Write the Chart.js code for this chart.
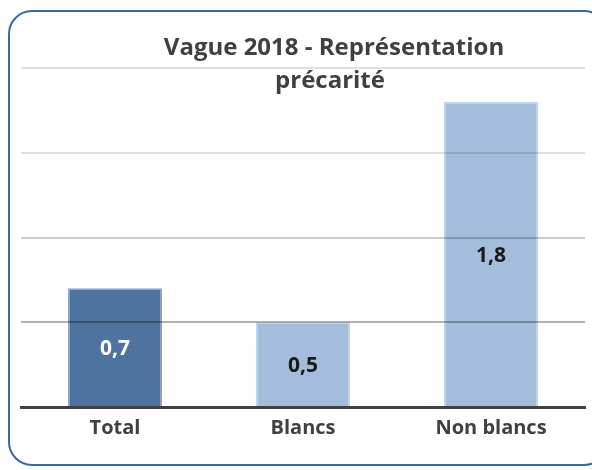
<!DOCTYPE html>
<html><head><meta charset="utf-8">
<script src="https://cdn.jsdelivr.net/npm/chart.js@4/dist/chart.umd.min.js"></script>
<style>
html,body{margin:0;padding:0;background:#fff;}
#wrap{position:relative;width:592px;height:470px;overflow:hidden;}
#frame{position:absolute;left:8px;top:10px;width:600px;height:456px;border:2px solid #3d67a3;border-radius:24px;box-sizing:border-box;}
canvas{position:absolute;left:0;top:0;}
</style></head>
<body>
<div id="wrap"><div id="frame"></div><canvas id="c" width="592" height="470"></canvas></div>
<script>
const categories = ["Total", "Blancs", "Non blancs"];
const values = [0.7, 0.5, 1.8];
const titleLines = ["Vague 2018 - Représentation", "précarité"];
const yTicks = [0, 0.5, 1, 1.5, 2];

const fill = ["#4f739f", "#a5bddc", "#a5bddc"];
const edge = ["#8ba6c9", "#c2d3e9", "#c2d3e9"];
const labelColor = ["#ffffff", "#1a1a1a", "#1a1a1a"];
const FONT = '"Open Sans"';

const valueLabels = {
  id: 'valueLabels',
  afterDatasetsDraw(chart) {
    const ctx = chart.ctx;
    const meta = chart.getDatasetMeta(0);
    ctx.save();
    ctx.font = 'bold 21px ' + FONT;
    ctx.textAlign = 'center';
    ctx.textBaseline = 'alphabetic';
    meta.data.forEach((bar, i) => {
      const p = bar.getProps(['x','y','base'], true);
      ctx.fillStyle = labelColor[i];
      ctx.fillText(values[i].toFixed(1).replace('.', ','), p.x, (p.y + p.base) / 2 + 8);
    });
    ctx.restore();
  }
};
const titlePlugin = {
  id: 'titlePlugin',
  afterDraw(chart) {
    const ctx = chart.ctx;
    ctx.save();
    ctx.font = 'bold 24px ' + FONT;
    ctx.fillStyle = '#404040';
    ctx.textAlign = 'center';
    ctx.textBaseline = 'alphabetic';
    ctx.fillText(titleLines[0], 334, 55);
    ctx.fillText(titleLines[1], 330, 88);
    ctx.restore();
  }
};

new Chart(document.getElementById('c'), {
  type: 'bar',
  data: {
    labels: categories,
    datasets: [{
      data: values,
      backgroundColor: fill,
      borderColor: edge,
      borderWidth: 1.5,
      categoryPercentage: 1,
      barPercentage: 0.5
    }]
  },
  options: {
    responsive: false,
    animation: false,
    layout: { padding: { left: 21, right: 7, top: 68, bottom: 21 } },
    plugins: { legend: { display: false }, tooltip: { enabled: false }, title: { display: false } },
    scales: {
      x: {
        grid: { display: false, drawTicks: false },
        border: { display: true, color: '#404040', width: 3 },
        ticks: { color: '#404040', font: { family: 'Open Sans', weight: 'bold', size: 20 }, padding: 9 }
      },
      y: {
        min: 0, max: 2,
        afterBuildTicks(axis) { axis.ticks = yTicks.map(v => ({ value: v })); },
        ticks: { display: false },
        border: { display: false },
        grid: {
          z: 1,
          drawTicks: false,
          lineWidth: 2,
          color(ctx) {
            const v = ctx.tick ? ctx.tick.value : 0;
            if (v === 0) return 'rgba(0,0,0,0)';
            if (v === 0.5) return 'rgba(0,0,0,0.30)';
            if (v === 1) return 'rgba(0,0,0,0.20)';
            return 'rgba(0,0,0,0.12)';
          }
        }
      }
    }
  },
  plugins: [valueLabels, titlePlugin]
});
</script>
</body></html>
